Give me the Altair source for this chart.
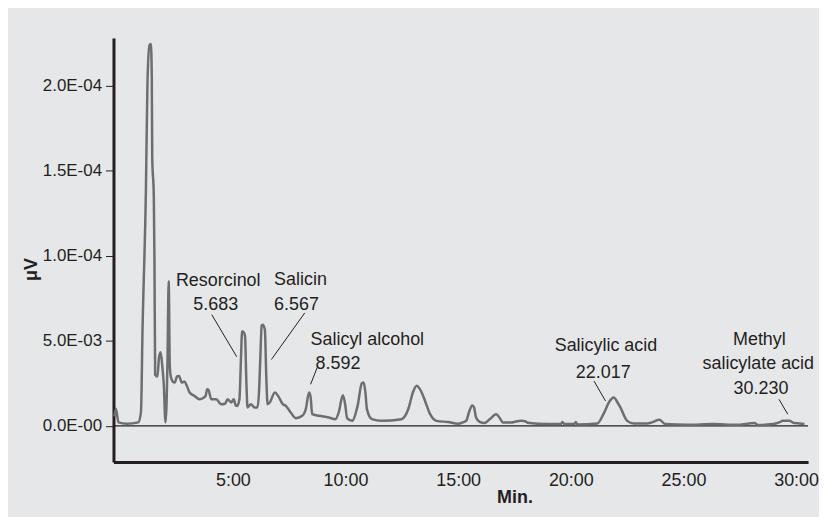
import altair as alt
import pandas as pd

# Chromatogram trace: retention time (min) and detector signal (units of 1e-5 uV as drawn on the axis)
time_min = [-0.26, -0.19, -0.08, 0.3, 0.80, 0.92, 0.99, 1.14, 1.21, 1.30, 1.36, 1.40, 1.42, 1.49, 1.52,
            1.55, 1.65, 1.72, 1.79, 1.86, 1.93, 2.01, 2.10, 2.15, 2.20, 2.24, 2.33, 2.42, 2.52, 2.61,
            2.73, 2.85, 2.96, 3.08, 3.30, 3.52, 3.70, 3.79, 3.86, 3.92, 4.04, 4.26, 4.48, 4.65, 4.77,
            4.92, 5.04, 5.12, 5.19, 5.29, 5.36, 5.41, 5.48, 5.54, 5.60, 5.65, 5.80, 5.95, 6.09, 6.16,
            6.21, 6.28, 6.32, 6.42, 6.48, 6.54, 6.64, 6.86, 7.05, 7.20, 7.35, 7.57, 7.79, 8.08, 8.24,
            8.38, 8.45, 8.52, 8.82, 9.26, 9.55, 9.70, 9.88, 9.98, 10.07, 10.29, 10.54, 10.72, 10.80,
            10.88, 10.95, 11.17, 11.61, 12.49, 12.79, 13.00, 13.16, 13.28, 13.38, 13.53, 13.75, 14.04,
            14.55, 15.00, 15.20, 15.36, 15.48, 15.62, 15.70, 15.79, 15.95, 16.17, 16.41, 16.69, 16.85,
            16.98, 17.35, 17.56, 17.79, 18.00, 18.08, 18.97, 19.55, 19.63, 19.72, 20.15, 20.22, 20.30,
            21.18, 21.47, 21.70, 21.91, 22.06, 22.20, 22.50, 22.79, 23.38, 23.60, 23.94, 24.19, 25.15,
            26.32, 27.35, 28.16, 28.31, 28.97, 29.25, 29.41, 29.70, 29.92, 30.15, 30.37]
signal = [0.55, 1.0, 0.2, 0.12, 0.2, 0.8, 5.7, 13.9, 20.3, 22.4, 22.45, 20.5, 15.8, 13.5, 9.6,
          3.0, 2.9, 4.0, 4.33, 3.6, 2.5, 0.2, 4.0, 8.5, 3.5, 2.93, 2.6, 2.54, 2.9, 2.93,
          2.54, 2.6, 2.34, 1.96, 1.75, 1.56, 1.65, 1.76, 2.15, 2.1, 1.56, 1.56, 1.27, 1.3, 1.56,
          1.37, 1.56, 1.2, 1.17, 1.56, 4.0, 5.56, 5.5, 5.27, 2.5, 1.08, 1.27, 1.08, 1.08, 2.0,
          3.71, 5.9, 5.95, 5.66, 3.0, 1.27, 1.37, 1.96, 1.66, 1.3, 1.17, 0.78, 0.45, 0.59, 1.0,
          1.96, 1.7, 0.68, 0.59, 0.49, 0.39, 0.8, 1.8, 1.3, 0.45, 0.29, 1.2, 2.5, 2.55,
          2.0, 0.98, 0.39, 0.29, 0.39, 1.0, 2.0, 2.35, 2.2, 1.96, 1.46, 0.7, 0.29,
          0.22, 0.12, 0.2, 0.3, 0.8, 1.2, 1.1, 0.5, 0.23, 0.16, 0.4, 0.68, 0.45,
          0.2, 0.2, 0.25, 0.29, 0.25, 0.18, 0.1, 0.1, 0.22, 0.1, 0.1, 0.22, 0.08,
          0.14, 0.75, 1.4, 1.66, 1.4, 1.08, 0.29, 0.14, 0.14, 0.2, 0.35, 0.1, 0.06,
          0.1, 0.06, 0.16, 0.04, 0.1, 0.2, 0.29, 0.29, 0.16, 0.14, 0.1]

# Axis ticks
x_ticks = [5, 10, 15, 20, 25, 30]
y_ticks = [0, 5, 10, 15, 20]
y_tick_labels = ["0.0E-00", "5.0E-03", "1.0E-04", "1.5E-04", "2.0E-04"]

# Peak annotations (one row per text line)
label_text = ["Resorcinol", "5.683", "Salicin", "6.567", "Salicyl alcohol", "8.592",
              "Salicylic acid", "22.017", "Methyl", "salicylate acid", "30.230"]
label_t = [4.35, 4.24, 6.83, 6.83, 8.45, 8.67, 21.56, 21.44, 28.37, 28.32, 28.44]
label_v = [8.24, 6.79, 8.30, 6.79, 4.78, 3.32, 4.39, 2.83, 4.78, 3.36, 1.86]
label_anchor = ["center", "center", "left", "left", "left", "left",
                "center", "center", "center", "center", "center"]

# Leader lines from labels to peaks
lead_t1 = [4.06, 8.19, 8.74, 21.03, 29.24]
lead_v1 = [6.54, 6.64, 3.42, 2.63, 1.56]
lead_t2 = [5.17, 6.71, 8.45, 21.54, 29.63]
lead_v2 = [4.06, 3.90, 2.44, 1.46, 0.68]

FONT = "Liberation Sans, Arial, Helvetica, sans-serif"
INK = "#231f20"
FS = 18

trace = pd.DataFrame({"t": time_min, "v": signal})
labels = pd.DataFrame({"text": label_text, "t": label_t, "v": label_v, "anchor": label_anchor})
leads = pd.DataFrame({"t": lead_t1, "v": lead_v1, "t2": lead_t2, "v2": lead_v2})

xscale = alt.Scale(domain=[-0.3, 30.53], nice=False, zero=False)
yscale = alt.Scale(domain=[-2.13, 22.8], nice=False, zero=False)

label_expr = " : ".join(
    f"datum.value == {v} ? '{s}'" for v, s in zip(y_ticks, y_tick_labels)
) + " : ''"

x_axis = alt.Axis(
    values=x_ticks, labelExpr="datum.value + ':00'", ticks=False, labelPadding=10,
    labelBaseline="top", grid=False, domainWidth=3, domainColor=INK,
    labelFont=FONT, labelFontSize=FS, labelColor=INK,
    titleFont=FONT, titleFontSize=FS, titleFontWeight="bold",
    titleColor=INK, titleX=403, titleY=27, titleBaseline="top", titleAnchor="start",
    titleAlign="center")
y_axis = alt.Axis(
    values=y_ticks, labelExpr=label_expr, tickSize=8, tickWidth=1, tickColor=INK,
    labelPadding=4, grid=False, domainWidth=3, domainColor=INK,
    labelFont=FONT, labelFontSize=17, labelColor=INK,
    titleFont=FONT, titleFontSize=FS, titleFontWeight="bold",
    titleColor=INK, titleAngle=270, titleX=-82, titleY=232, titleBaseline="middle",
    titleAlign="center", titleAnchor="start")

X = lambda f: alt.X(f, scale=xscale, axis=x_axis, title="Min.")
Y = lambda f: alt.Y(f, scale=yscale, axis=y_axis, title="μV")

line = alt.Chart(trace).mark_line(
    color="#6d6e71", strokeWidth=2.5, interpolate="monotone", strokeJoin="round"
).encode(x=X("t:Q"), y=Y("v:Q"))

baseline = alt.Chart(pd.DataFrame({"v": [0]})).mark_rule(color=INK, strokeWidth=1.2).encode(
    y=Y("v:Q")
)

leaders = alt.Chart(leads).mark_rule(color=INK, strokeWidth=1).encode(
    x=X("t:Q"), y=Y("v:Q"), x2="t2:Q", y2="v2:Q",
)

def text_layer(anchor):
    return alt.Chart(labels[labels["anchor"] == anchor]).mark_text(
        align=anchor, baseline="alphabetic", font=FONT, fontSize=FS, color=INK
    ).encode(x=X("t:Q"), y=Y("v:Q"), text="text:N")

chart = alt.layer(
    baseline, line, leaders, text_layer("center"), text_layer("left")
).properties(
    width=698, height=426,
    autosize=alt.AutoSizeParams(type="none"),
    padding={"left": 106, "top": 29, "right": 11, "bottom": 54},
    background="#e6e7e9",
).configure_view(stroke=None)

chart.save("out.html", embed_options={"renderer": "svg", "actions": False})
